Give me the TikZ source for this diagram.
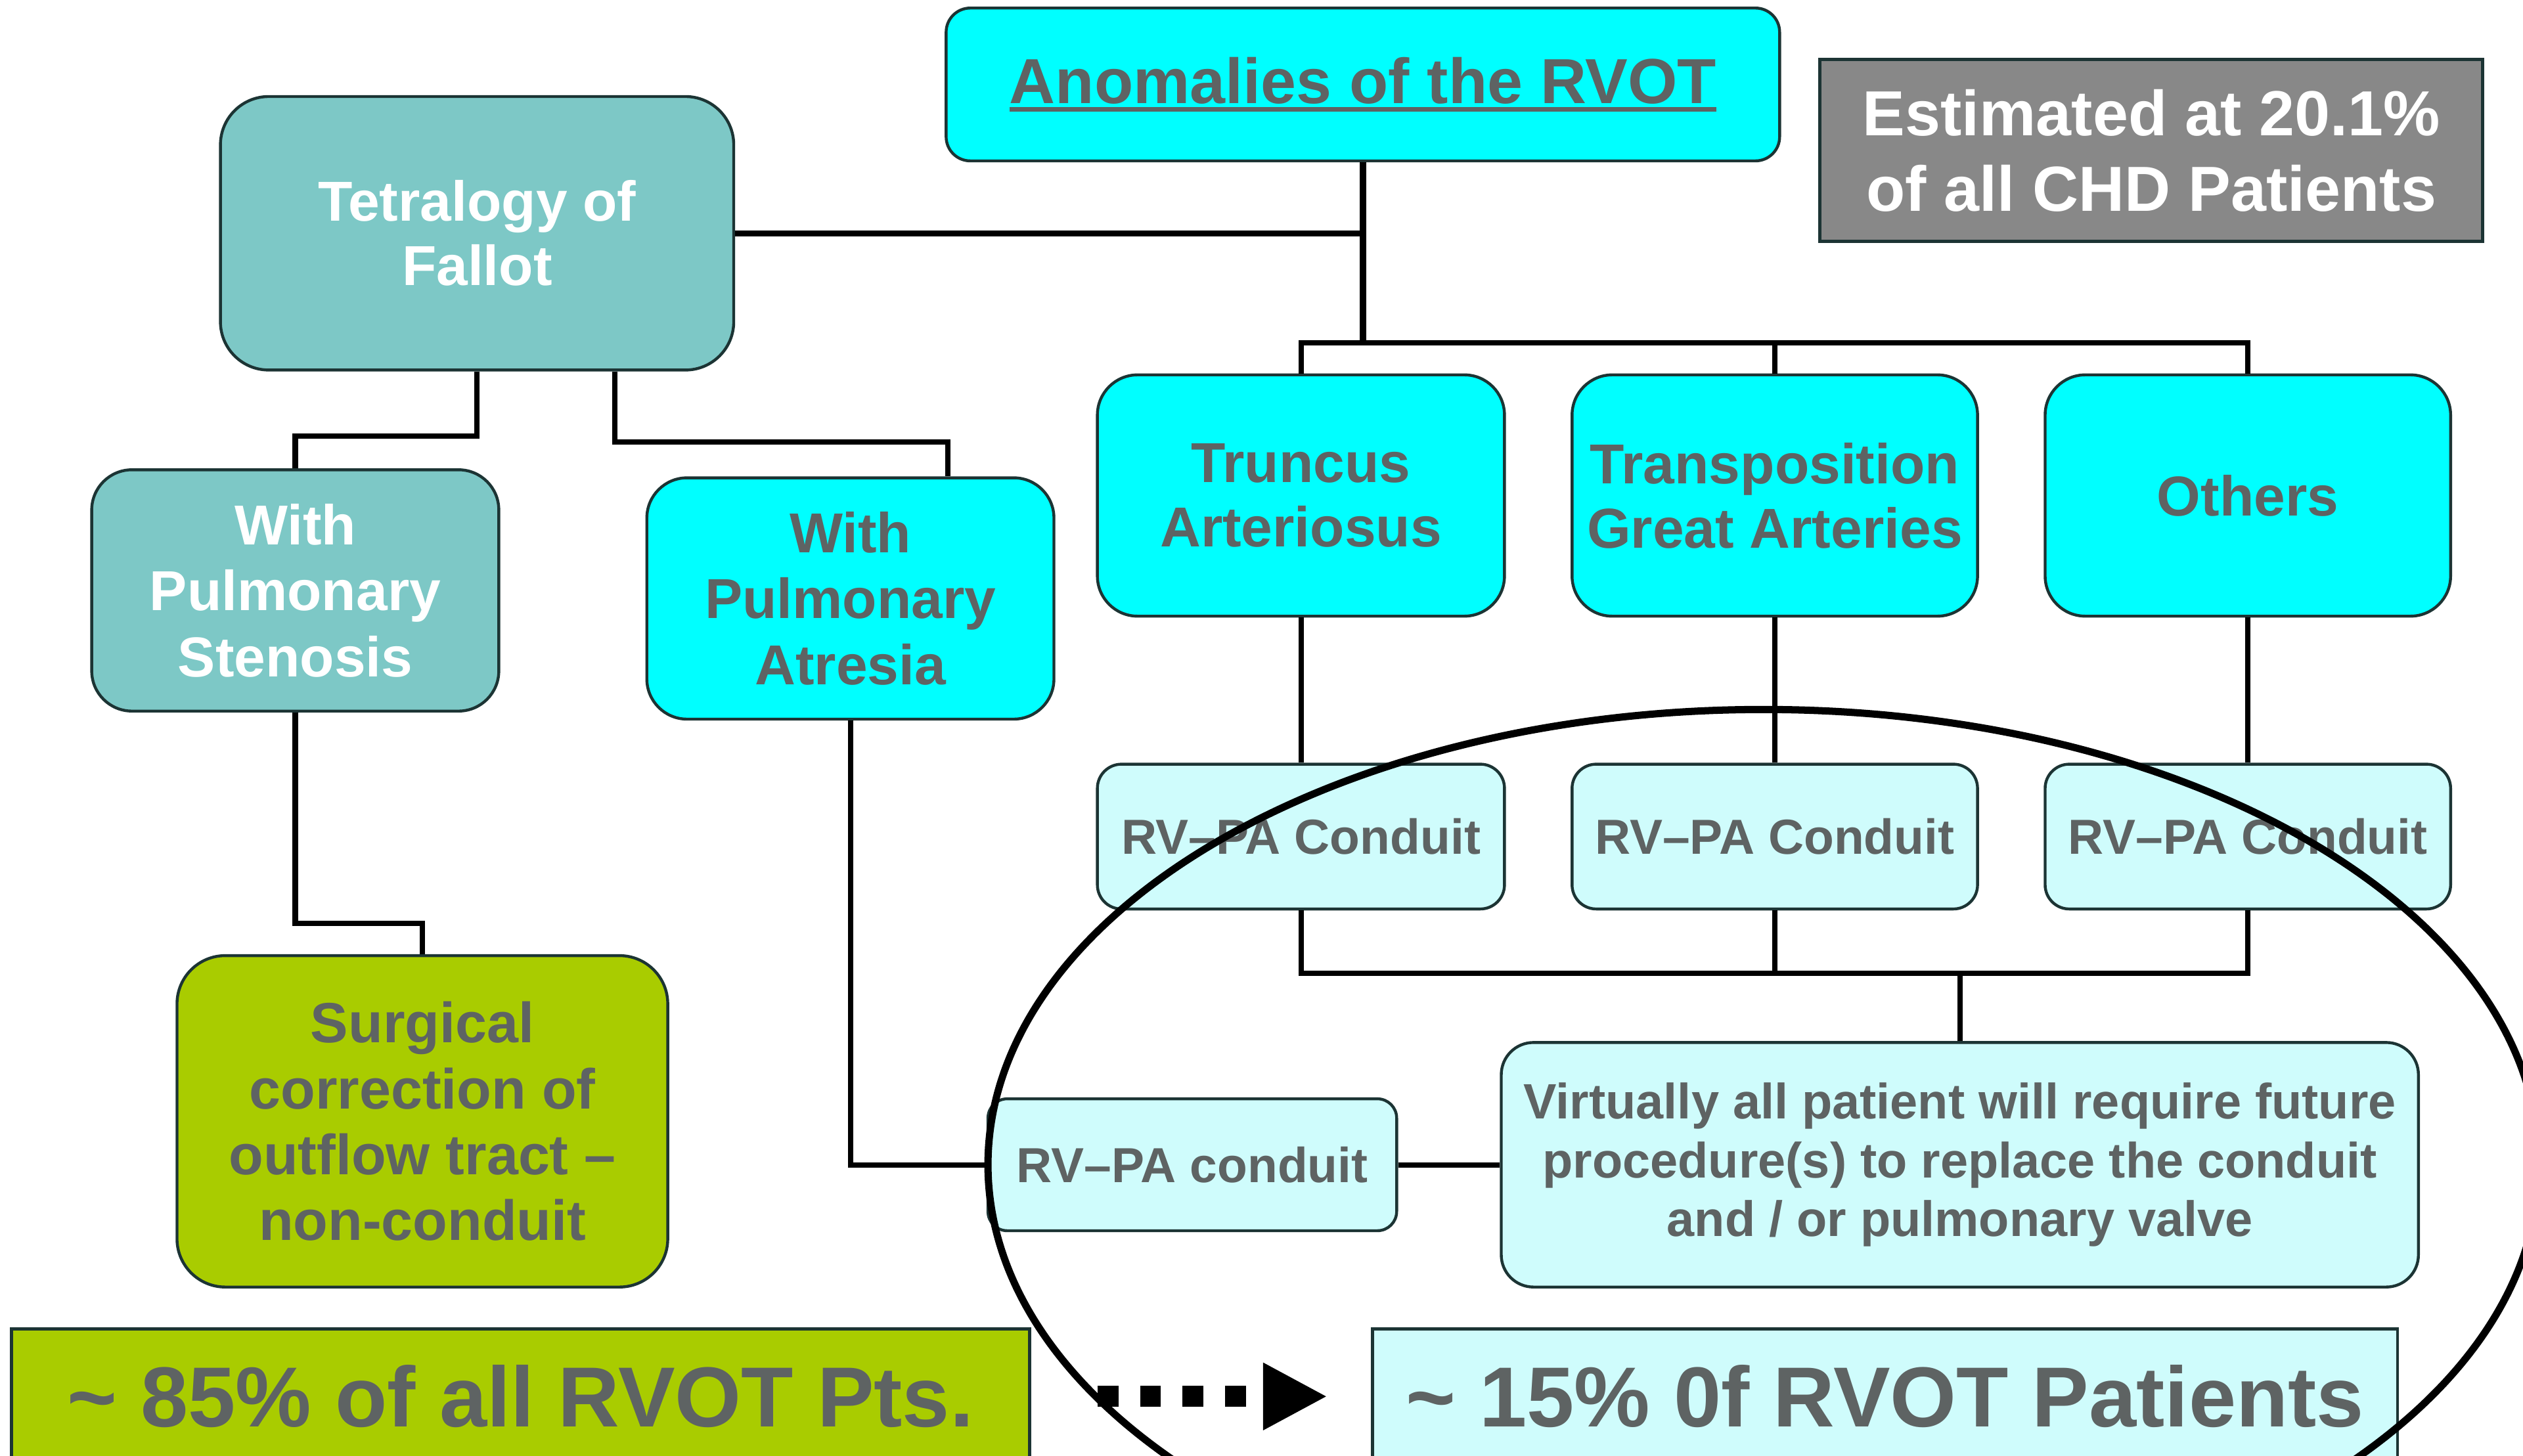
\documentclass[tikz,border=0pt]{standalone}
\usepackage{fontspec}
\setmainfont{Liberation Sans}
\usetikzlibrary{arrows.meta}
\definecolor{cyanbox}{HTML}{00FFFF}
\definecolor{tealbox}{HTML}{7DC8C6}
\definecolor{lightbox}{HTML}{CFFCFC}
\definecolor{greenbox}{HTML}{A9CC00}
\definecolor{graybox}{HTML}{888888}
\definecolor{txtgray}{HTML}{5E6363}
\definecolor{edgecol}{HTML}{1C3434}
\newcommand\fsz[2]{\fontsize{#1pt}{#2pt}\selectfont}
\newcommand\myul[1]{\setbox0\hbox{#1}\rlap{\rule[-5pt]{\wd0}{2.8pt}}\box0}
\begin{document}
\begin{tikzpicture}[x=1pt,y=-1pt,
  box/.style={draw=edgecol, line width=1.8pt, rounded corners=#1, inner sep=0pt, align=center, text=txtgray},
  box/.default=18pt,
  conn/.style={line width=3.3pt, draw=black},
  bigfont/.style={font=\bfseries\fsz{35}{40}},
  condfont/.style={font=\bfseries\fsz{30.6}{36}}
]
\useasboundingbox (0,0) rectangle (1568,905);
\clip (0,0) rectangle (1568,905);
\fill[white] (0,0) rectangle (1568,905);

% top
\node[box=15pt, fill=cyanbox, minimum width=518pt, minimum height=95pt, font=\bfseries\fsz{39.6}{47}] (anom) at (847,52.5) {\myul{Anomalies of the RVOT}};
\node[draw=edgecol, line width=2pt, fill=graybox, text=white, inner sep=0pt, align=center, minimum width=412pt, minimum height=113pt, font=\bfseries\fsz{39.6}{47}] (est) at (1337,93.5) {Estimated at 20.1\%\\of all CHD Patients};
\node[box=30pt, fill=tealbox, text=white, minimum width=319pt, minimum height=170pt, bigfont] (tof) at (296.5,145) {Tetralogy of\\Fallot};

% second row
\node[box=25pt, fill=cyanbox, minimum width=253pt, minimum height=150pt, bigfont] (trunc) at (808.5,308) {Truncus\\Arteriosus};
\node[box=25pt, fill=cyanbox, minimum width=252pt, minimum height=150pt, bigfont] (tga) at (1103,308) {Transposition\\Great Arteries};
\node[box=25pt, fill=cyanbox, minimum width=252pt, minimum height=150pt, bigfont] (oth) at (1397,308) {Others};

\node[box=25pt, fill=tealbox, text=white, minimum width=253pt, minimum height=150pt, font=\bfseries\fsz{35}{41}] (sten) at (183.5,367) {With\\Pulmonary\\Stenosis};
\node[box=25pt, fill=cyanbox, minimum width=253pt, minimum height=150pt, font=\bfseries\fsz{35}{41}] (atr) at (528.5,372) {With\\Pulmonary\\Atresia};

% conduits
\node[box=15pt, fill=lightbox, minimum width=253pt, minimum height=90pt, condfont] (c1) at (808.5,520) {RV--PA Conduit};
\node[box=15pt, fill=lightbox, minimum width=252pt, minimum height=90pt, condfont] (c2) at (1103,520) {RV--PA Conduit};
\node[box=15pt, fill=lightbox, minimum width=252pt, minimum height=90pt, condfont] (c3) at (1397,520) {RV--PA Conduit};

\node[box=20pt, fill=lightbox, minimum width=570pt, minimum height=152pt, font=\bfseries\fsz{30.9}{36.5}] (virt) at (1218,724) {Virtually all patient will require future\\procedure(s) to replace the conduit\\and / or pulmonary valve};
\node[box=12pt, fill=lightbox, minimum width=254pt, minimum height=82pt, condfont] (rvpa) at (741,724) {RV--PA conduit};

\node[box=30pt, fill=greenbox, minimum width=305pt, minimum height=206pt, font=\bfseries\fsz{35.2}{41}] (surg) at (262.5,697) {Surgical\\correction of\\outflow tract --\\non-conduit};

% bottom
\node[draw=edgecol, line width=2pt, fill=greenbox, text=txtgray, inner sep=0pt, minimum width=633pt, minimum height=84pt, font=\bfseries\fsz{53}{60}] (p85) at (323.5,868) {\textasciitilde{} 85\% of all RVOT Pts.};
\node[draw=edgecol, line width=2pt, fill=lightbox, text=txtgray, inner sep=0pt, minimum width=637pt, minimum height=84pt, font=\bfseries\fsz{53}{60}] (p15) at (1171.5,868) {\textasciitilde{} 15\% 0f RVOT Patients};

% connectors
\coordinate (j1) at (847,213);
\coordinate (j2) at (1218,605);
\draw[conn, line width=3.8pt] (tof.east) -| (anom.south);
\draw[conn, line width=3.8pt] (anom.south) -- (j1);
\draw[conn] (trunc.north) |- (j1) -| (oth.north);
\draw[conn] (tga.north) -- (tga.north |- j1);
\draw[conn] (trunc.south) -- (c1.north);
\draw[conn] (tga.south) -- (c2.north);
\draw[conn] (oth.south) -- (c3.north);
\draw[conn] (c1.south) |- (j2) -| (c3.south);
\draw[conn] (c2.south) -- (c2.south |- j2);
\draw[conn] (virt.north) -- (virt.north |- j2);
\draw[conn] (rvpa.east) -- (virt.west);
\draw[conn] (atr.south) |- (rvpa.west);
\draw[conn] (tof.south) -- ++(0,40) -| (sten.north);
\draw[conn] ([xshift=85.5pt]tof.south) -- ++(0,44) -| ([xshift=60.5pt]atr.north);
\draw[conn] (sten.south) -- ++(0,131) -| (surg.north);

\draw[line width=13pt, dash pattern=on 13pt off 13.5pt, -{Triangle[length=40pt,width=39pt]}, shorten <=41pt, shorten >=27pt] (p85.east) -- (p15.west);

% highlight ellipse
\draw[line width=4.5pt] (1096,724) ellipse [x radius=482pt, y radius=283pt];
\end{tikzpicture}
\end{document}
